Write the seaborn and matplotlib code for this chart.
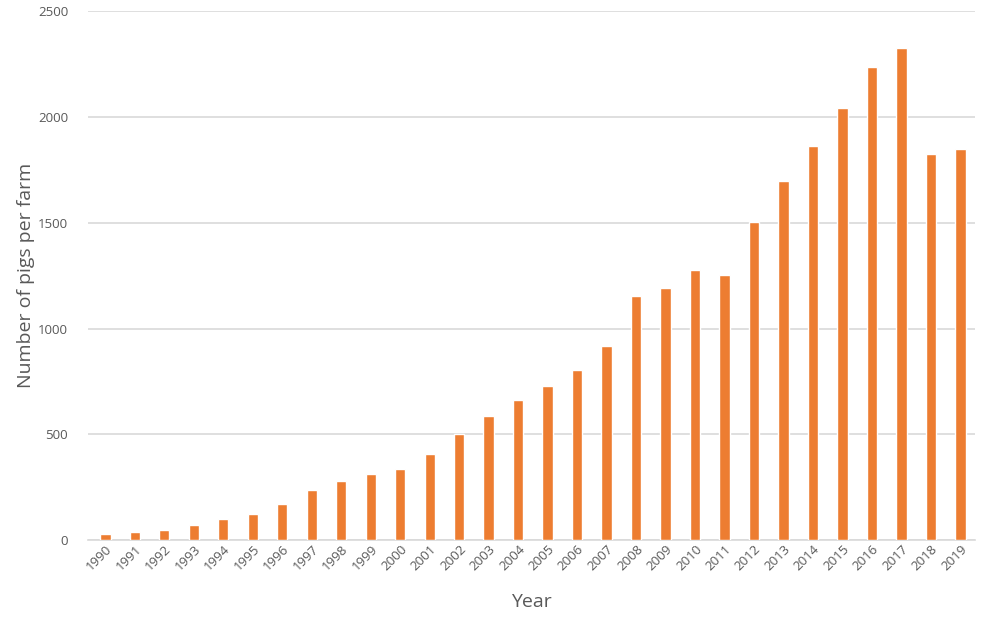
import matplotlib
matplotlib.use("Agg")
import matplotlib.pyplot as plt
import pandas as pd
import seaborn as sns

years = [str(y) for y in range(1990, 2020)]
pigs_per_farm = [29, 38, 47, 73, 98, 125, 172, 238, 279, 310,
                 337, 407, 501, 586, 663, 726, 803, 918, 1156, 1192,
                 1278, 1255, 1503, 1696, 1863, 2044, 2236, 2324, 1824, 1847]
y_ticks = [0, 500, 1000, 1500, 2000, 2500]

df = pd.DataFrame({"Year": years, "Pigs": pigs_per_farm})

sns.set_theme(style="white")
plt.rcParams['font.family'] = ['Open Sans', 'DejaVu Sans']

fig = plt.figure(figsize=(9.85, 6.25), dpi=100)
ax = fig.add_axes([0.089, 0.136, 0.901, 0.846])

sns.barplot(data=df, x="Year", y="Pigs", color="#ED7D31", saturation=1,
            width=0.35, ax=ax, zorder=3)

ax.set_ylim(0, 2500)
ax.set_yticks(y_ticks)
ax.set_xlim(-0.6, len(years) - 0.5)
ax.yaxis.grid(True, color="#D9D9D9", linewidth=1.2, zorder=0)
ax.set_axisbelow(True)
for s in ["top", "right", "left"]:
    ax.spines[s].set_visible(False)
ax.spines["bottom"].set_color("#D9D9D9")
ax.spines["bottom"].set_linewidth(1.2)

ax.tick_params(axis="y", labelsize=9.5, colors="#595959", length=0, pad=14)
ax.tick_params(axis="x", labelsize=9.5, colors="#595959", length=0, pad=2)
plt.setp(ax.get_xticklabels(), rotation=45, ha="right", rotation_mode="anchor")

ax.set_xlabel("Year", fontsize=14, color="#595959", labelpad=14)
ax.set_ylabel("Number of pigs per farm", fontsize=14, color="#595959", labelpad=2)

fig.savefig("out.png", dpi=100)
